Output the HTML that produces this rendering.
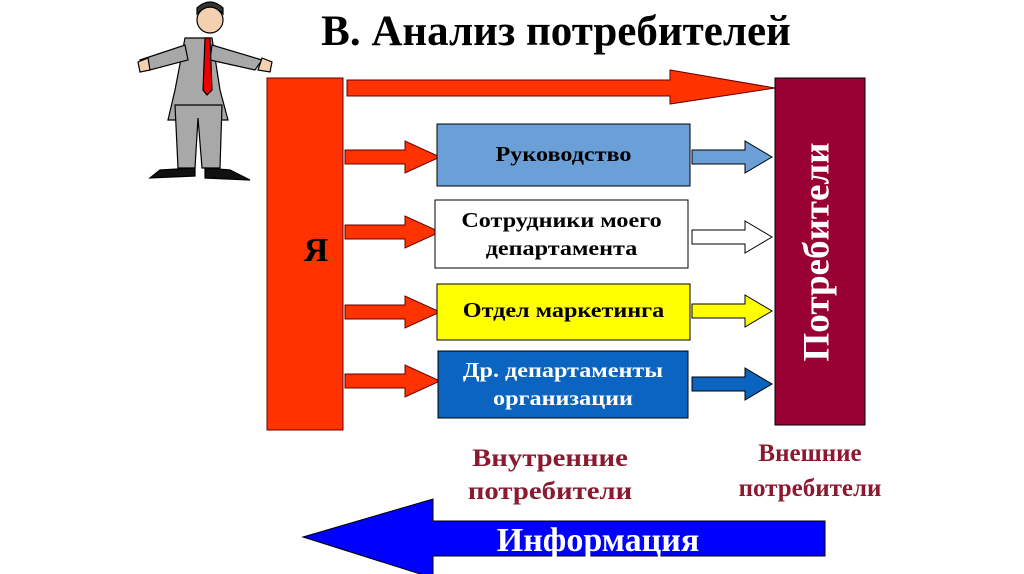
<!DOCTYPE html>
<html><head><meta charset="utf-8"><style>
body{margin:0;width:1024px;height:574px;background:#fff;overflow:hidden;position:relative;font-family:"Liberation Serif",serif;font-weight:bold}
.t{position:absolute;text-align:center}
.s{transform:scaleX(1.15);transform-origin:center}
</style></head><body>
<svg width="1024" height="574" style="position:absolute;left:0;top:0">
<g stroke="#000" stroke-width="1.2">
<path d="M185 38 L175 90 L168 120 L228 120 L220 90 L212 38 Z" fill="#a8a8a8"/>
<path d="M140 60 L185 45 L188 60 L150 70Z" fill="#a8a8a8"/>
<path d="M262 60 L212 45 L210 60 L255 70Z" fill="#a8a8a8"/>
<path d="M175 105 L178 168 L195 168 L198 118 L202 168 L220 168 L222 105Z" fill="#a8a8a8"/>
<path d="M160 170 L195 168 L195 176 L150 178Z" fill="#111"/>
<path d="M205 168 L230 170 L250 180 L205 178Z" fill="#111"/>
<path d="M205 38 L210 38 L212 90 L207 95 L203 90Z" fill="#e00"/>
<circle cx="210" cy="20" r="13" fill="#f3d0b0"/>
<path d="M197 14 Q210 0 223 14 L223 8 Q210 -4 197 8Z" fill="#333"/>
<path d="M138 62 L148 58 L150 70 L140 72Z" fill="#f3d0b0"/>
<path d="M262 58 L272 62 L270 72 L258 70Z" fill="#f3d0b0"/>
</g>
<rect x="267" y="78" width="76" height="352" fill="#ff3300" stroke="#600" stroke-width="1"/>
<polygon points="347,80 670,80 670,70 775,88 670,104 670,96 347,96" fill="#ff3300" stroke="#600"/>
<g fill="#ff3300" stroke="#600">
<polygon points="345,150 405,150 405,141 440,157 405,173 405,164 345,164"/>
<polygon points="345,225 405,225 405,216 440,232 405,248 405,239 345,239"/>
<polygon points="345,305 405,305 405,296 440,312 405,328 405,319 345,319"/>
<polygon points="345,374 405,374 405,365 440,381 405,397 405,388 345,388"/>
</g>
<rect x="437" y="124" width="253" height="62" fill="#6a9fd8" stroke="#000"/>
<rect x="435" y="200" width="253" height="68" fill="#fff" stroke="#000"/>
<rect x="437" y="284" width="253" height="56" fill="#ffff00" stroke="#000"/>
<rect x="438" y="351" width="250" height="67" fill="#0b64c0" stroke="#000"/>
<polygon points="692,150 745,150 745,141 772,157 745,173 745,164 692,164" fill="#6a9fd8" stroke="#000"/>
<polygon points="692,230 745,230 745,221 772,237 745,253 745,244 692,244" fill="#fff" stroke="#000"/>
<polygon points="692,304 745,304 745,295 772,311 745,327 745,318 692,318" fill="#ffff00" stroke="#000"/>
<polygon points="692,377 745,377 745,368 772,384 745,400 745,391 692,391" fill="#0b64c0" stroke="#000"/>
<rect x="775" y="78" width="90" height="347" fill="#990033" stroke="#000"/>
<text x="820" y="252" transform="rotate(-90 820 252)" text-anchor="middle" dominant-baseline="middle" fill="#fff" font-family="Liberation Serif" font-weight="bold" font-size="37">Потребители</text>
<polygon points="303,537 433,499 433,521 825,521 825,556 433,556 433,578" fill="#0000ff" stroke="#000"/>
</svg>
<div class="t" style="left:300px;top:7px;width:512px;font-size:43px">В. Анализ потребителей</div>
<div class="t" style="left:290px;top:232px;width:52px;font-size:34px">Я</div>
<div class="t s" style="left:437px;top:142px;width:253px;font-size:21px">Руководство</div>
<div class="t s" style="left:435px;top:206px;width:253px;font-size:21px;line-height:28px">Сотрудники моего департамента</div>
<div class="t s" style="left:437px;top:298px;width:253px;font-size:21px">Отдел маркетинга</div>
<div class="t s" style="left:438px;top:356px;width:250px;font-size:21px;line-height:28px;color:#fff">Др. департаменты организации</div>
<div class="t s" style="left:440px;top:442px;width:220px;font-size:25px;line-height:33px;color:#8b1a30">Внутренние потребители</div>
<div class="t" style="left:700px;top:436px;width:220px;font-size:25px;line-height:35px;color:#8b1a30">Внешние потребители</div>
<div class="t" style="left:433px;top:522px;width:330px;font-size:34px;color:#fff">Информация</div>
</body></html>
